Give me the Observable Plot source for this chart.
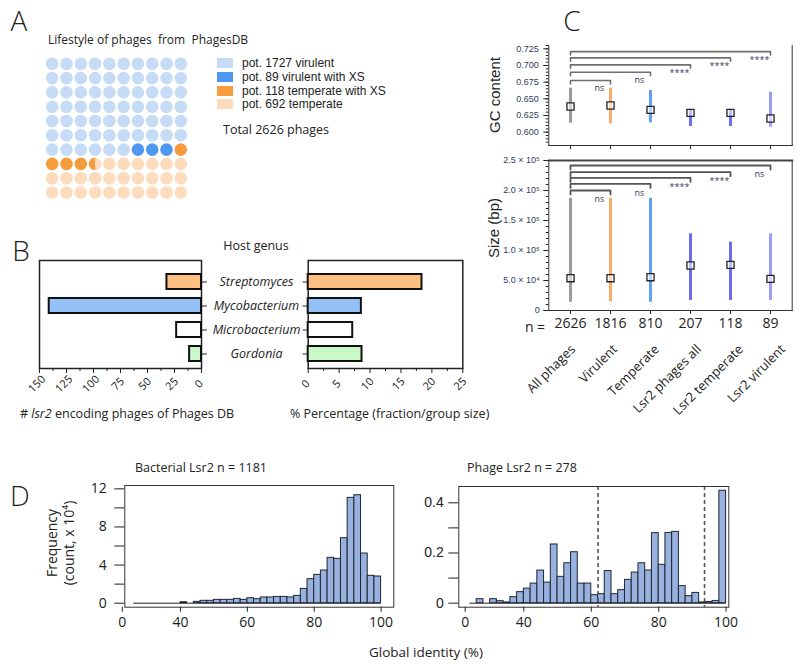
<!DOCTYPE html>
<html><head><meta charset="utf-8">
<script src="https://cdn.jsdelivr.net/npm/d3@7"></script>
<script src="https://cdn.jsdelivr.net/npm/@observablehq/plot@0.6"></script>
<style>
html,body{margin:0;padding:0;background:#fff;}
#fig{position:relative;width:800px;height:670px;overflow:hidden;font-family:'Open Sans','Noto Sans',sans-serif;color:#222;}
#fig svg{position:absolute;left:0;top:0;}
.t{position:absolute;white-space:pre;line-height:1;}
</style></head><body><div id="fig"></div>
<script>
// ================= DATA =================
// Panel A – lifestyle waffle
const lifestyleLabels = ["pot. 1727 virulent", "pot. 89 virulent with XS", "pot. 118 temperate with XS", "pot. 692 temperate"];
const lifestyleColors = ["#c6dbf5", "#4f98ef", "#f59d3d", "#fddcbd"];
const waffleUnits = [66, 3, 4.5, 26.5];          // dots (of 100) per category as drawn
const totalPhages = 2626;

// Panel B – host genus
const genera = ["Streptomyces", "Mycobacterium", "Microbacterium", "Gordonia"];
const lsr2Counts = [32, 141, 23, 11];
const lsr2Percent = [18.4, 8.6, 7.2, 8.7];
const genusColors = ["#ffbf80", "#93c1f8", "#ffffff", "#c9f8c9"];
const countTicks = [150, 125, 100, 75, 50, 25, 0];
const percentTicks = [0, 5, 10, 15, 20, 25];

// Panel C – GC content and genome size
const groups = ["All phages", "Virulent", "Temperate", "Lsr2 phages all", "Lsr2 temperate", "Lsr2 virulent"];
const groupN = [2626, 1816, 810, 207, 118, 89];
const groupColors = ["#9b9b9b", "#f8ad68", "#5ea3f2", "#6b6df0", "#6b6df0", "#9d9df6"];
const gcMedian = [0.6385, 0.640, 0.6335, 0.629, 0.629, 0.6205];
const gcLow = [0.6135, 0.6125, 0.614, 0.6085, 0.6085, 0.6075];
const gcHigh = [0.666, 0.666, 0.6625, 0.6325, 0.6325, 0.660];
const gcSignif = ["ns", "ns", "****", "****", "****"];
const gcBracketY = [0.6774, 0.6898, 0.701, 0.7114, 0.7208];
const gcTicks = [0.600, 0.625, 0.650, 0.675, 0.700, 0.725];
const sizeMedian = [53800, 53800, 55500, 75000, 76000, 52800];
const sizeLow = [13800, 14400, 13800, 16700, 16700, 16700];
const sizeHigh = [187000, 187000, 187000, 127800, 113800, 127800];
const sizeSignif = ["ns", "ns", "****", "****", "ns"];
const sizeBracketY = [200000, 211000, 221000, 230500, 241700];
const sizeTicks = [0, 50000, 100000, 150000, 200000, 250000];
const sizeTickLabels = ["0", "5.0 × 10⁴", "1.0 × 10⁵", "1.5 × 10⁵", "2.0 × 10⁵", "2.5 × 10⁵"];

// Panel D – global identity histograms (bin starts, width 2)
const binWidth = 2;
const bactBins = [26,28,30,32,34,36,38,40,42,44,46,48,50,52,54,56,58,60,62,64,66,68,70,72,74,76,78,80,82,84,86,88,90,92,94,96,98];
const bactFreq = [0,0,0,0,0,0,0,0.1,0,0.14,0.25,0.25,0.35,0.35,0.35,0.45,0.35,0.52,0.42,0.6,0.6,0.66,0.66,0.6,0.77,1.5,2.52,2.97,3.43,4.76,4.65,6.82,11.05,11.33,5.21,2.87,2.8];
const phageBins = [24,26,28,30,32,34,36,38,40,42,44,46,48,50,52,54,56,58,60,62,64,66,68,70,72,74,76,78,80,82,84,86,88,90,92,94,96,98];
const phageFreq = [0,0.016,0,0.016,0.008,0.003,0.024,0.044,0.058,0.078,0.13,0.082,0.234,0.105,0.159,0.203,0.078,0.078,0.032,0.036,0.128,0.036,0.052,0.093,0.122,0.159,0.13,0.279,0.153,0.28,0.284,0.068,0.028,0.041,0.003,0.005,0.009,0.448];
const phageThresholds = [62, 93.6];
const dTicks = [22.6, 40, 60, 80, 100];
const dTickLabels = ["0", "40", "60", "80", "100"];

// ================= LAYOUT =================
const fig = document.getElementById("fig");
const FONT = "'Open Sans','Noto Sans',sans-serif";
const ARIAL = "'Liberation Sans',Arial,sans-serif";
const W = 800, H = 670;
const base = {width: W, height: H, style: {fontFamily: FONT, fontSize: "12px", color: "#222", background: "transparent", overflow: "visible"}, color: {type: "identity"}};
const box = (l, t, r, b) => ({marginLeft: l, marginTop: t, marginRight: W - r, marginBottom: H - b});
function add(chart) { fig.appendChild(chart); }
function txt(html, x, y, o = {}) {
  const d = document.createElement("div");
  d.className = "t";
  d.innerHTML = html;
  const ax = o.anchor === "start" ? "0%" : o.anchor === "end" ? "-100%" : "-50%";
  d.style.left = x + "px"; d.style.top = y + "px";
  d.style.fontSize = (o.size || 13) + "px";
  if (o.family) d.style.fontFamily = o.family;
  if (o.weight) d.style.fontWeight = o.weight;
  d.style.color = o.color || "#222";
  d.style.transform = `translate(${ax},-50%)` + (o.rotate ? ` rotate(${o.rotate}deg)` : "");
  fig.appendChild(d);
}
const blank = () => "";

// ---------- Panel A ----------
const halfLeft = {draw(ctx, size) { const r = Math.sqrt(size / Math.PI); ctx.moveTo(0, -r); ctx.arc(0, 0, r, -Math.PI / 2, Math.PI / 2, true); ctx.closePath(); }};
let acc = 0; const cum = waffleUnits.map(u => (acc += u));
const cells = [];
for (let i = 0; i < 100; i++) {
  const cEnd = cum.findIndex(c => c >= i + 1 - 1e-9);
  const cStart = cum.findIndex(c => c > i + 1e-9);
  cells.push({col: i % 10, row: Math.floor(i / 10), cat: cEnd, half: false});
  if (cStart !== cEnd) cells.push({col: i % 10, row: Math.floor(i / 10), cat: cStart, half: true});
}
add(Plot.plot({...base, ...box(51.7, 63.3, 180.3, 192),
  x: {domain: [0, 9], axis: null}, y: {domain: [0, 9], reverse: true, axis: null},
  marks: [
    Plot.dot(cells.filter(c => !c.half), {x: "col", y: "row", r: 6.3, fill: d => lifestyleColors[d.cat]}),
    Plot.dot(cells.filter(c => c.half), {x: "col", y: "row", r: 6.3, fill: d => lifestyleColors[d.cat], symbol: halfLeft})
  ]}));
txt("A", 19, 20, {size: 28, weight: 300});
txt("Lifestyle of phages  from  PhagesDB", 48, 40, {anchor: "start", size: 12});
lifestyleLabels.forEach((l, i) => {
  const y = 63.4 + i * 13.6;
  const s = document.createElement("div");
  s.style.cssText = `position:absolute;left:217px;top:${y - 5}px;width:16px;height:10px;background:${lifestyleColors[i]}`;
  fig.appendChild(s);
  txt(l, 242, y, {anchor: "start", size: 12, family: ARIAL});
});
txt(`Total ${totalPhages} phages`, 223, 130, {anchor: "start", size: 12.5});

// ---------- Panel B ----------
const idx4 = genera.map((_, i) => i);
const yBand = {type: "band", domain: genera, paddingInner: 0.38, paddingOuter: 0.42, align: 0.65};
add(Plot.plot({...base, ...box(39, 260, 201, 368),
  x: {domain: [0, 150], reverse: true}, y: yBand,
  marks: [
    Plot.frame({stroke: "#222", strokeWidth: 1.5}),
    Plot.barX(idx4, {x: i => lsr2Counts[i], y: i => genera[i], fill: i => genusColors[i], stroke: "#111", strokeWidth: 2}),
    Plot.axisX({ticks: countTicks, tickSize: 5, tickFormat: blank, label: null}),
    Plot.axisX({ticks: [137.5, 112.5, 87.5, 62.5, 37.5, 12.5], tickSize: 3, tickFormat: blank, label: null}),
    Plot.axisY({anchor: "right", tickSize: 5, tickFormat: blank, label: null}),
    Plot.text(countTicks, {x: d => d, frameAnchor: "bottom", dy: 18, rotate: -45, text: d => String(d), fontSize: 11})
  ]}));
add(Plot.plot({...base, ...box(307.7, 260, 462.3, 368),
  x: {domain: [0, 25]}, y: yBand,
  marks: [
    Plot.frame({stroke: "#222", strokeWidth: 1.5}),
    Plot.barX(idx4, {x: i => lsr2Percent[i], y: i => genera[i], fill: i => genusColors[i], stroke: "#111", strokeWidth: 2}),
    Plot.axisX({ticks: percentTicks, tickSize: 5, tickFormat: blank, label: null}),
    Plot.axisX({ticks: [2.5, 7.5, 12.5, 17.5, 22.5], tickSize: 3, tickFormat: blank, label: null}),
    Plot.axisY({anchor: "left", tickSize: 5, tickFormat: blank, label: null}),
    Plot.text(percentTicks, {x: d => d, frameAnchor: "bottom", dy: 18, rotate: -45, text: d => String(d), fontSize: 11}),
    Plot.text(genera, {y: d => d, frameAnchor: "left", textAnchor: "middle", dx: -51.7, text: d => d, fontStyle: "italic", fontSize: 12.5})
  ]}));
txt("B", 21, 250, {size: 28, weight: 300});
txt("Host genus", 256, 246, {size: 12.5});
txt("# <i>lsr2</i> encoding phages of Phages DB", 20, 414, {anchor: "start", size: 12.5});
txt("% Percentage (fraction/group size)", 290, 414, {anchor: "start", size: 12.5});

// ---------- Panel C ----------
const idx6 = groups.map((_, i) => i);
const idx5 = [0, 1, 2, 3, 4];
const xPoint = {type: "point", domain: groups, padding: 0.52};
const tickStyle = {fontFamily: ARIAL, fontSize: 9, fill: "#2f3d5c"};
function brackets(ys, drop) {
  const pts = [];
  ys.forEach((y, i) => {
    const t = groups[i + 1];
    pts.push({k: i, x: groups[0], y: y - drop}, {k: i, x: groups[0], y}, {k: i, x: t, y}, {k: i, x: t, y: y - drop});
  });
  return pts;
}
add(Plot.plot({...base, ...box(548.3, 45, 791.7, 145),
  x: xPoint, y: {domain: [0.58, 0.73]},
  marks: [
    Plot.frame({anchor: "left", stroke: "#333"}),
    Plot.frame({anchor: "right", stroke: "#333"}),
    Plot.frame({anchor: "bottom", stroke: "#333"}),
    Plot.axisY({ticks: gcTicks, tickSize: 5, tickPadding: 5, tickFormat: d3.format(".3f"), label: null, ...tickStyle}),
    Plot.axisY({ticks: d3.range(0.585, 0.7301, 0.005), tickSize: 2.5, tickFormat: blank, label: null}),
    Plot.axisX({tickSize: 4, tickFormat: blank, label: null}),
    Plot.ruleX(idx6, {x: i => groups[i], y1: i => gcLow[i], y2: i => gcHigh[i], stroke: i => groupColors[i], strokeWidth: 3}),
    Plot.dot(idx6, {x: i => groups[i], y: i => gcMedian[i], symbol: "square", r: 4, stroke: "#222", strokeWidth: 1.3, fill: "white", fillOpacity: 0.55}),
    Plot.line(brackets(gcBracketY, 0.005), {x: "x", y: "y", z: "k", stroke: "#6f6f6f", strokeWidth: 1.6}),
    Plot.text(idx5, {x: i => groups[i + 1], y: i => gcBracketY[i], text: i => gcSignif[i], dx: -11, dy: 8, fontSize: 9, fill: "#3a3a5c"})
  ]}));
add(Plot.plot({...base, ...box(548.3, 160, 791.7, 310),
  x: xPoint, y: {domain: [0, 250000]},
  marks: [
    Plot.frame({anchor: "left", stroke: "#333"}),
    Plot.frame({anchor: "right", stroke: "#333"}),
    Plot.frame({anchor: "bottom", stroke: "#333"}),
    Plot.frame({anchor: "top", stroke: "#444", strokeWidth: 2.2}),
    Plot.axisY({ticks: sizeTicks, tickSize: 5, tickPadding: 4, tickFormat: d => sizeTickLabels[sizeTicks.indexOf(d)], label: null, ...tickStyle}),
    Plot.axisY({ticks: d3.range(10000, 250000, 10000), tickSize: 2.5, tickFormat: blank, label: null}),
    Plot.axisX({tickSize: 4, tickFormat: blank, label: null}),
    Plot.ruleX(idx6, {x: i => groups[i], y1: i => sizeLow[i], y2: i => sizeHigh[i], stroke: i => groupColors[i], strokeWidth: 3}),
    Plot.dot(idx6, {x: i => groups[i], y: i => sizeMedian[i], symbol: "square", r: 4, stroke: "#222", strokeWidth: 1.3, fill: "white", fillOpacity: 0.55}),
    Plot.line(brackets(sizeBracketY, 6700), {x: "x", y: "y", z: "k", stroke: "#555", strokeWidth: 1.8}),
    Plot.text(idx5, {x: i => groups[i + 1], y: i => sizeBracketY[i], text: i => sizeSignif[i], dx: -11, dy: 9, fontSize: 9, fill: "#3a3a5c"}),
    Plot.text(idx6, {x: i => groups[i], frameAnchor: "bottom", dy: 17, text: i => String(groupN[i]), fontSize: 14})
  ]}));
// rotated category labels (own point scale, labels drift slightly wider than ticks)
add(Plot.plot({...base, marginLeft: 568, marginRight: W - 780, marginTop: 343, marginBottom: 0,
  x: {type: "point", domain: groups, padding: 0, axis: null},
  marks: [Plot.text(groups, {x: d => d, frameAnchor: "top", text: d => d, rotate: -45, textAnchor: "end", fontSize: 13})]}));
txt("C", 572, 20, {size: 28, weight: 300});
txt("GC content", 494, 95, {size: 15, family: ARIAL, rotate: -90});
txt("Size (bp)", 493, 228, {size: 15, family: ARIAL, rotate: -90});
txt("n =", 535, 327, {size: 14});

// ---------- Panel D ----------
function histPlot(bins, freq, o) {
  const idx = bins.map((_, i) => i);
  return Plot.plot({...base, ...box(o.l, o.t, o.r, o.b),
    x: {domain: o.xd}, y: {domain: o.yd},
    marks: [
      Plot.ruleY([0], {x1: bins[0], x2: 100, stroke: "#222", strokeWidth: 1}),
      Plot.rect(idx, {x1: i => bins[i], x2: i => bins[i] + binWidth, y1: 0, y2: i => freq[i], fill: "#98b1de", stroke: "#1f2633", strokeWidth: 1}),
      ...(o.dashes ? [Plot.ruleX(o.dashes, {stroke: "#555", strokeWidth: 1.6, strokeDasharray: "4,3"})] : []),
      Plot.frame({stroke: "#333"}),
      Plot.axisY({ticks: o.yt, tickSize: 10, tickPadding: o.tp, tickFormat: o.yf, fontSize: 14, label: null, fontFamily: o.yfam}),
      Plot.axisY({ticks: o.ym, tickSize: 10, tickFormat: blank, label: null}),
      Plot.axisX({ticks: dTicks, tickSize: 5, tickPadding: 5, tickFormat: d => dTickLabels[dTicks.indexOf(d)], fontSize: 14, label: null})
    ]});
}
add(histPlot(bactBins, bactFreq, {l: 124.3, t: 485, r: 393.3, b: 606.7, xd: [23.35, 103.8], yd: [-0.42, 12.35],
  yt: [0, 4, 8, 12], ym: [2, 6, 10], tp: 8, yf: d => String(d), yfam: FONT}));
add(histPlot(phageBins, phageFreq, {l: 458.3, t: 486, r: 728.3, b: 606.7, xd: [20.7, 100.8], yd: [-0.016, 0.465],
  yt: [0, 0.2, 0.4], ym: [0.1, 0.3], tp: 5, yf: d => d === 0 ? "0" : d3.format(".1f")(d), yfam: ARIAL, dashes: phageThresholds}));
txt("D", 20, 495, {size: 28, weight: 300});
txt("Bacterial Lsr2 n = 1181", 135, 468, {anchor: "start", size: 12.5});
txt("Phage Lsr2 n = 278", 467, 468, {anchor: "start", size: 12.5});
txt("Frequency", 52, 543, {size: 14, rotate: -90});
txt("(count, x 10⁴)", 68.5, 543, {size: 14, rotate: -90});
txt("Global identity (%)", 426, 653, {size: 13.5});
</script></body></html>
